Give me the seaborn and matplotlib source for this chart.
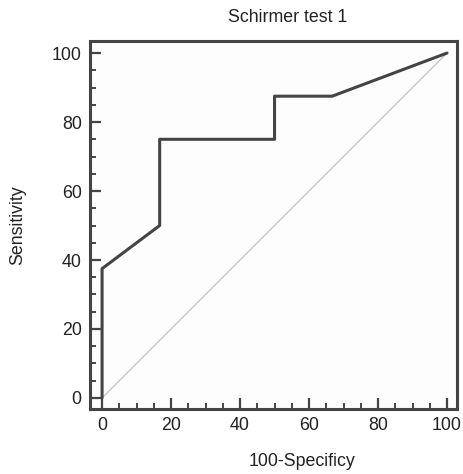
import matplotlib
matplotlib.use("Agg")
import matplotlib.pyplot as plt
from matplotlib.ticker import MultipleLocator
import seaborn as sns
import pandas as pd

fpr = [0, 0, 16.7, 16.7, 50, 50, 66.7, 100]
tpr = [0, 37.5, 50, 75, 75, 87.5, 87.5, 100]
diag_x = [0, 100]
diag_y = [0, 100]
x_ticks = [0, 20, 40, 60, 80, 100]
y_ticks = [0, 20, 40, 60, 80, 100]

sns.set_theme(style="white")
plt.rcParams['font.family'] = ['Liberation Sans', 'DejaVu Sans']

fig = plt.figure(figsize=(4.64, 4.74), dpi=100)
ax = fig.add_axes([90/464, 1-409/474, (457-90)/464, (409-41)/474])

df = pd.DataFrame({"x": fpr, "y": tpr})
dd = pd.DataFrame({"x": diag_x, "y": diag_y})
sns.lineplot(data=dd, x="x", y="y", ax=ax, color="#bdbdbd", linewidth=0.8,
             sort=False, estimator=None)
sns.lineplot(data=df, x="x", y="y", ax=ax, color="#444444", linewidth=2.2,
             sort=False, estimator=None)

ax.set_xlim(-3.5, 102.9)
ax.set_ylim(-3.2, 103.5)
ax.set_xticks(x_ticks)
ax.set_yticks(y_ticks)
ax.xaxis.set_minor_locator(MultipleLocator(5))
ax.yaxis.set_minor_locator(MultipleLocator(5))
ax.tick_params(which="major", direction="in", length=8, width=1.6, color="#444444",
               labelsize=12.8, labelcolor="#222222", pad=6)
ax.tick_params(which="minor", direction="in", length=4, width=1.4, color="#444444")
ax.tick_params(axis="x", which="both", bottom=True, top=False)
ax.tick_params(axis="y", which="both", left=True, right=False)
for s in ax.spines.values():
    s.set_color("#444444")
    s.set_linewidth(2.2)
ax.set_facecolor("#fdfdfd")
ax.set_xlabel("")
ax.set_ylabel("")

fig.text(288/464, 1-18/474, "Schirmer test 1", ha="center", va="center", fontsize=12.8, color="#222222")
fig.text(302/464, 1-462/474, "100-Specificy", ha="center", va="center", fontsize=12.8, color="#222222")
fig.text(18/464, 1-225/474, "Sensitivity", ha="center", va="center", rotation=90, fontsize=12.8, color="#222222")

fig.savefig("out.png", dpi=100)
